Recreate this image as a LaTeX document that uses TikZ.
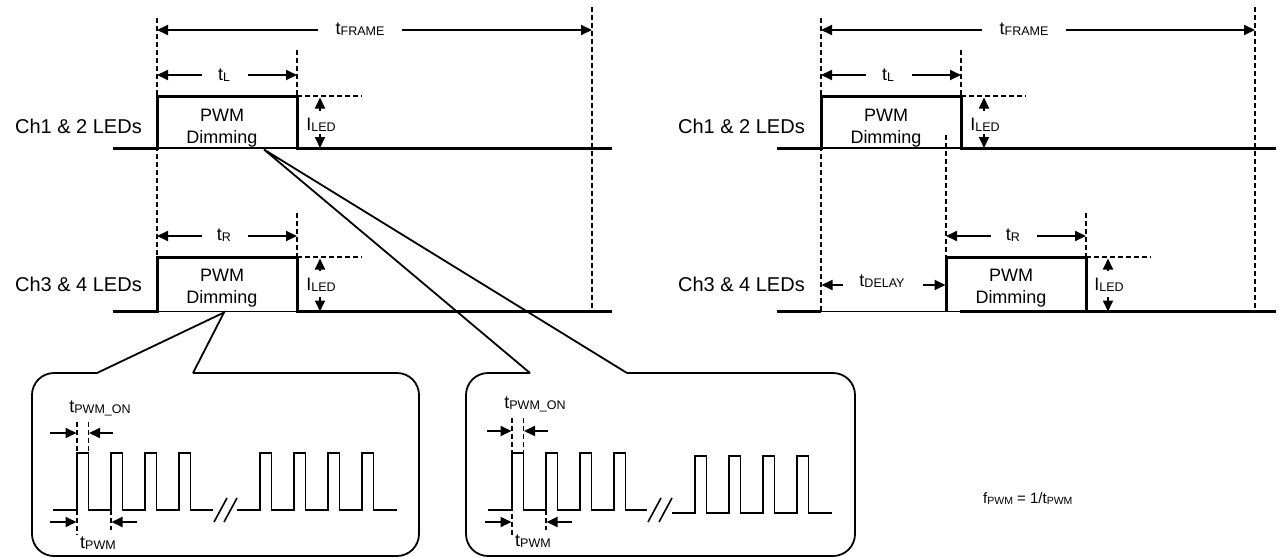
\documentclass[tikz,border=0pt]{standalone}
\usepackage{fontspec}
\setmainfont{Liberation Sans}
\usetikzlibrary{arrows.meta}
\newcommand{\tsb}[2]{#1\raisebox{-1.5pt}{\fontsize{12.5}{13}\selectfont #2}}
\newcommand{\tsbs}[2]{#1\raisebox{-1.5pt}{\fontsize{10.5}{11}\selectfont #2}}
\begin{document}
\begin{tikzpicture}[x=1pt,y=-1pt,
 thickln/.style={line width=3pt,line join=miter},
 thinln/.style={line width=1.2pt},
 dim/.style={line width=1.8pt,-{Triangle[length=11pt,width=10pt]}},
 dsh/.style={line width=1.6pt,dash pattern=on 5pt off 3pt},
 wave/.style={line width=1.6pt,line join=miter},
 callout/.style={line width=1.8pt},
 lbl/.style={font=\fontsize{20}{22}\selectfont,inner sep=0pt,anchor=base east},
 tx/.style={font=\fontsize{18}{20}\selectfont,inner sep=0pt,anchor=base},
 fnote/.style={font=\fontsize{15}{16}\selectfont,inner sep=0pt,anchor=base west},
]
\useasboundingbox (0,0) rectangle (1280,557);

% ================= LEFT PANEL =================
\draw[dsh] (157,18) -- (157,311.5);
\draw[dsh] (592,7) -- (592,311.5);
\draw[dsh] (297,50) -- (297,96);
\draw[dsh] (297,213) -- (297,257);
\draw[dsh] (297,96) -- (362,96);
\draw[dsh] (297,257) -- (362,257);

\node[tx] (tf1) at (360,34) {\tsb{t}{FRAME}};
\draw[dim] (318,30) -- (157,30);
\draw[dim] (402,30) -- (592,30);

\node[tx] (tl1) at (224,80) {\tsb{t}{L}};
\draw[dim] (202,75) -- (157,75);
\draw[dim] (248,75) -- (297,75);

\node[lbl] (c12a) at (142,133) {Ch1 \& 2 LEDs};
\draw[thinln] (157,148) -- (297,148);
\draw[thickln] (113,148) -- (157,148) -- (157,96) -- (297,96) -- (297,148) -- (612,148);
\node[tx] (p1a) at (222,121.5) {PWM};
\node[tx] (p1b) at (222,143) {Dimming};
\draw[dim] (320,111) -- (320,97.5);
\draw[dim] (320,134) -- (320,148);
\node[tx] (il1) at (321,130) {\tsb{I}{LED}};

\node[tx] (tr1) at (224,240) {\tsb{t}{R}};
\draw[dim] (202,236) -- (157,236);
\draw[dim] (248,236) -- (297,236);

\node[lbl] (c34a) at (142,291) {Ch3 \& 4 LEDs};
\draw[thinln] (157,311.5) -- (297,311.5);
\draw[thickln] (113,311.5) -- (157,311.5) -- (157,257) -- (297,257) -- (297,311.5) -- (612,311.5);
\node[tx] (p2a) at (222,281.5) {PWM};
\node[tx] (p2b) at (222,303) {Dimming};
\draw[dim] (320,271) -- (320,258.5);
\draw[dim] (320,297) -- (320,311.5);
\node[tx] (il2) at (321,290) {\tsb{I}{LED}};

% ================= CALLOUTS =================
\draw[callout] (97,373) -- (224,312.5) -- (193,373);
\draw[callout] (530,373) -- (264,149.5) -- (627,373);
\draw[callout,rounded corners=22pt] (193,373) -- (419,373) -- (419,556) -- (32,556) -- (32,373) -- (97,373);
\draw[callout,rounded corners=22pt] (627,373) -- (855,373) -- (855,556) -- (466,556) -- (466,373) -- (530,373);

% inset 1
\draw[wave] (53,510) foreach \r in {77,111,145,179} { -- (\r,510) -- (\r,453) -- (\r+11.5,453) -- (\r+11.5,510) } -- (213,510);
\draw[wave] (237,510) foreach \r in {260,294,328,362} { -- (\r,510) -- (\r,453) -- (\r+11.5,453) -- (\r+11.5,510) } -- (397,510);
\draw[wave] (214,522) -- (227,498);
\draw[wave] (224,522) -- (237,498);
\draw[dsh] (77,422) -- (77,535);
\draw[dsh] (88.5,422) -- (88.5,453);
\draw[dsh] (111,510) -- (111,530);
\draw[dim] (50,433) -- (76.5,433);
\draw[dim] (113,433) -- (89,433);
\draw[dim] (50,522) -- (76.5,522);
\draw[dim] (137,522) -- (111.5,522);
\node[tx] (ton1) at (100,412) {\tsb{t}{PWM\_ON}};
\node[tx] (tp1) at (98,548) {\tsb{t}{PWM}};

% inset 2
\draw[wave] (488,510) foreach \r in {512,546,580,614} { -- (\r,510) -- (\r,453) -- (\r+11.5,453) -- (\r+11.5,510) } -- (647,510);
\draw[wave] (672,513) foreach \r in {695,729,763,797} { -- (\r,513) -- (\r,456) -- (\r+11.5,456) -- (\r+11.5,513) } -- (832,513);
\draw[wave] (648,522) -- (661,498);
\draw[wave] (659,522) -- (672,498);
\draw[dsh] (512,418) -- (512,535);
\draw[dsh] (523.5,418) -- (523.5,453);
\draw[dsh] (546,510) -- (546,530);
\draw[dim] (487,431) -- (511.5,431);
\draw[dim] (548,431) -- (524,431);
\draw[dim] (485,522) -- (511.5,522);
\draw[dim] (572,522) -- (546.5,522);
\node[tx] (ton2) at (535,408) {\tsb{t}{PWM\_ON}};
\node[tx] (tp2) at (533,546) {\tsb{t}{PWM}};

% ================= RIGHT PANEL =================
\draw[dsh] (821,18) -- (821,311.5);
\draw[dsh] (1255,7) -- (1255,311.5);
\draw[dsh] (961,50) -- (961,96);
\draw[dsh] (946,135) -- (946,257);
\draw[dsh] (1086,213) -- (1086,257);
\draw[dsh] (961,96) -- (1026,96);
\draw[dsh] (1086,257) -- (1151,257);

\node[tx] (tf2) at (1024,34) {\tsb{t}{FRAME}};
\draw[dim] (982,30) -- (821,30);
\draw[dim] (1066,30) -- (1255,30);

\node[tx] (tl2) at (888,80) {\tsb{t}{L}};
\draw[dim] (866,75) -- (821,75);
\draw[dim] (912,75) -- (961,75);

\node[lbl] (c12b) at (805,133) {Ch1 \& 2 LEDs};
\draw[thinln] (821,148) -- (961,148);
\draw[thickln] (777,148) -- (821,148) -- (821,96) -- (961,96) -- (961,148) -- (1276,148);
\node[tx] (p3a) at (886,121.5) {PWM};
\node[tx] (p3b) at (886,143) {Dimming};
\draw[dim] (984,111) -- (984,97.5);
\draw[dim] (984,134) -- (984,148);
\node[tx] (il3) at (985,130) {\tsb{I}{LED}};

\node[tx] (tr2) at (1013,240) {\tsb{t}{R}};
\draw[dim] (991,236) -- (946,236);
\draw[dim] (1037,236) -- (1086,236);

\node[tx] (td) at (882,286) {\tsb{t}{DELAY}};
\draw[dim] (843,285) -- (821.5,285);
\draw[dim] (923,285) -- (945.5,285);

\node[lbl] (c34b) at (805,291) {Ch3 \& 4 LEDs};
\draw[thickln] (777,311.5) -- (821,311.5);
\draw[thinln] (821,311.5) -- (960,311.5);
\draw[thickln] (960,311.5) -- (1086,311.5);
\draw[thickln] (946,311.5) -- (946,257) -- (1086,257) -- (1086,311.5) -- (1276,311.5);
\node[tx] (p4a) at (1011,281.5) {PWM};
\node[tx] (p4b) at (1011,303) {Dimming};
\draw[dim] (1108,271) -- (1108,258.5);
\draw[dim] (1108,297) -- (1108,311.5);
\node[tx] (il4) at (1109,290) {\tsb{I}{LED}};

\node[fnote] (fp) at (983,503) {\tsbs{f}{PWM} = 1/\tsbs{t}{PWM}};
\end{tikzpicture}
\end{document}
